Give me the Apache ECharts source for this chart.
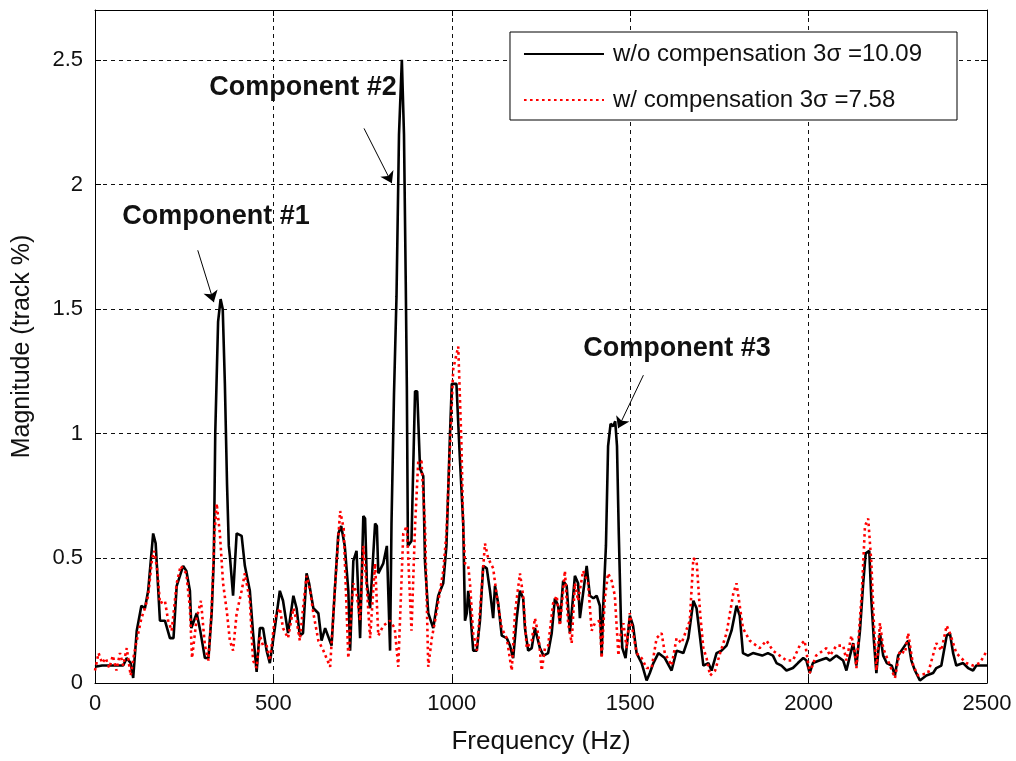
<!DOCTYPE html>
<html>
<head>
<meta charset="utf-8">
<script src="https://cdn.jsdelivr.net/npm/echarts@6/dist/echarts.min.js"></script>
<style>
html,body{margin:0;padding:0;background:#fff;}
#chart{width:1016px;height:761px;}
</style>
</head>
<body>
<div id="chart"></div>
<script>
// ---- data ----
const seriesNames = ['w/o compensation 3\u03c3 =10.09', 'w/ compensation 3\u03c3 =7.58'];
const xTicks = [0, 500, 1000, 1500, 2000, 2500];
const yTicks = [0, 0.5, 1, 1.5, 2, 2.5];

// [frequency Hz, magnitude]
const withoutComp = [
[0,0.065],[20,0.07],[40,0.07],[60,0.07],[79,0.07],[89,0.10],[100,0.08],[107,0.02],[117,0.21],[130,0.31],
[140,0.30],[149,0.37],[163,0.60],[170,0.56],[182,0.25],[196,0.25],[210,0.18],[220,0.18],[229,0.39],[247,0.47],
[256,0.45],[266,0.37],[270,0.22],[285,0.28],[295,0.21],[308,0.10],[318,0.10],[327,0.28],[333,0.50],[337,1.00],
[345,1.45],[352,1.54],[358,1.50],[364,1.20],[370,0.80],[375,0.55],[378,0.51],[387,0.35],[397,0.60],[411,0.59],
[420,0.47],[434,0.37],[443,0.20],[453,0.045],[462,0.22],[471,0.22],[481,0.13],[490,0.08],[504,0.22],[518,0.37],
[527,0.33],[541,0.20],[556,0.35],[565,0.30],[574,0.19],[583,0.20],[593,0.44],[600,0.40],[612,0.30],[626,0.28],
[635,0.17],[645,0.22],[663,0.15],[672,0.37],[682,0.60],[690,0.63],[700,0.55],[710,0.37],[715,0.13],[724,0.49],
[733,0.53],[743,0.18],[752,0.67],[757,0.66],[762,0.40],[771,0.30],[785,0.64],[790,0.63],[794,0.44],[808,0.48],
[818,0.55],[827,0.13],[831,0.64],[838,1.16],[845,1.55],[852,2.20],[860,2.50],[866,2.20],[871,1.60],[874,1.19],
[877,0.55],[887,0.57],[897,1.17],[903,1.17],[911,0.86],[920,0.83],[925,0.48],[934,0.28],[948,0.22],[962,0.35],
[976,0.40],[985,0.55],[995,1.00],[1000,1.20],[1013,1.20],[1023,0.89],[1032,0.64],[1037,0.25],[1042,0.28],[1046,0.37],
[1051,0.30],[1060,0.13],[1070,0.13],[1079,0.25],[1088,0.47],[1098,0.46],[1107,0.37],[1116,0.26],[1121,0.39],[1130,0.32],
[1140,0.19],[1154,0.18],[1163,0.15],[1172,0.10],[1182,0.26],[1191,0.37],[1200,0.34],[1205,0.22],[1214,0.13],[1224,0.14],
[1233,0.22],[1247,0.14],[1257,0.11],[1270,0.12],[1280,0.20],[1289,0.34],[1298,0.31],[1303,0.24],[1312,0.41],[1322,0.39],
[1331,0.20],[1345,0.43],[1354,0.40],[1359,0.26],[1368,0.36],[1378,0.47],[1387,0.35],[1397,0.34],[1406,0.35],[1415,0.31],
[1420,0.11],[1425,0.33],[1432,0.55],[1438,0.95],[1445,1.04],[1452,1.03],[1458,1.05],[1463,0.95],[1468,0.60],[1474,0.25],
[1478,0.14],[1487,0.10],[1499,0.27],[1508,0.23],[1518,0.12],[1532,0.08],[1546,0.01],[1555,0.04],[1565,0.08],[1579,0.12],
[1597,0.10],[1616,0.05],[1630,0.13],[1649,0.12],[1663,0.18],[1677,0.33],[1686,0.30],[1696,0.18],[1705,0.07],[1719,0.08],
[1728,0.05],[1742,0.12],[1756,0.13],[1770,0.15],[1784,0.21],[1798,0.31],[1807,0.27],[1816,0.12],[1830,0.11],[1844,0.12],
[1870,0.11],[1886,0.12],[1900,0.11],[1910,0.08],[1924,0.07],[1938,0.05],[1956,0.06],[1970,0.08],[1985,0.10],[1994,0.09],
[2003,0.04],[2012,0.08],[2030,0.09],[2050,0.10],[2060,0.09],[2078,0.11],[2097,0.09],[2106,0.05],[2116,0.11],[2125,0.16],
[2134,0.07],[2144,0.21],[2153,0.40],[2160,0.52],[2170,0.53],[2176,0.33],[2183,0.17],[2190,0.04],[2200,0.20],[2209,0.11],
[2219,0.08],[2233,0.07],[2242,0.03],[2251,0.11],[2265,0.14],[2279,0.17],[2288,0.09],[2298,0.05],[2312,0.01],[2330,0.03],
[2349,0.04],[2358,0.06],[2372,0.07],[2387,0.19],[2396,0.20],[2405,0.12],[2414,0.07],[2433,0.08],[2447,0.06],[2461,0.05],
[2470,0.07],[2484,0.07],[2500,0.07]
];

const withComp = [
[0,0.05],[10,0.12],[20,0.08],[30,0.10],[40,0.06],[50,0.11],[60,0.05],[70,0.12],[79,0.07],[89,0.14],
[100,0.03],[110,0.12],[117,0.17],[130,0.26],[140,0.30],[149,0.35],[160,0.50],[166,0.53],[175,0.45],[182,0.32],
[196,0.33],[205,0.25],[215,0.21],[229,0.40],[240,0.47],[256,0.44],[266,0.30],[272,0.10],[285,0.26],[297,0.33],
[308,0.15],[318,0.09],[327,0.30],[335,0.60],[341,0.72],[350,0.60],[359,0.40],[370,0.28],[378,0.17],[387,0.13],
[397,0.28],[411,0.37],[420,0.44],[434,0.33],[443,0.09],[453,0.06],[462,0.19],[471,0.15],[481,0.15],[490,0.09],
[504,0.26],[518,0.30],[527,0.22],[541,0.18],[556,0.30],[565,0.25],[574,0.17],[583,0.30],[593,0.43],[603,0.37],
[612,0.28],[626,0.17],[640,0.13],[659,0.065],[672,0.37],[687,0.69],[697,0.62],[710,0.10],[724,0.40],[733,0.36],
[743,0.25],[752,0.55],[762,0.38],[771,0.18],[785,0.48],[794,0.19],[808,0.23],[827,0.25],[840,0.22],[850,0.065],
[864,0.60],[874,0.63],[887,0.21],[897,0.63],[906,0.89],[915,0.89],[925,0.63],[934,0.065],[944,0.18],[957,0.28],
[976,0.45],[985,0.60],[995,0.95],[1004,1.26],[1018,1.35],[1027,0.96],[1032,0.63],[1037,0.48],[1046,0.47],[1051,0.40],
[1060,0.20],[1070,0.13],[1079,0.29],[1093,0.56],[1102,0.50],[1116,0.46],[1126,0.35],[1140,0.22],[1154,0.18],[1168,0.05],
[1177,0.28],[1191,0.44],[1200,0.35],[1210,0.14],[1224,0.17],[1233,0.26],[1243,0.19],[1252,0.05],[1261,0.14],[1270,0.15],
[1284,0.32],[1294,0.35],[1303,0.23],[1317,0.45],[1326,0.24],[1336,0.16],[1345,0.40],[1354,0.33],[1368,0.45],[1382,0.40],
[1392,0.21],[1401,0.24],[1415,0.25],[1420,0.10],[1429,0.34],[1438,0.44],[1448,0.41],[1457,0.35],[1467,0.11],[1471,0.18],
[1481,0.24],[1490,0.14],[1499,0.28],[1508,0.20],[1518,0.12],[1532,0.10],[1546,0.06],[1560,0.06],[1574,0.18],[1588,0.20],
[1597,0.12],[1616,0.07],[1630,0.18],[1644,0.16],[1667,0.25],[1677,0.50],[1686,0.49],[1696,0.28],[1705,0.14],[1714,0.10],
[1724,0.03],[1738,0.05],[1752,0.12],[1770,0.20],[1789,0.36],[1798,0.40],[1807,0.31],[1816,0.22],[1835,0.17],[1863,0.14],
[1882,0.17],[1900,0.13],[1919,0.11],[1938,0.09],[1956,0.09],[1975,0.15],[1989,0.17],[2003,0.04],[2021,0.11],[2050,0.14],
[2060,0.11],[2078,0.15],[2097,0.15],[2106,0.09],[2120,0.19],[2130,0.12],[2134,0.06],[2149,0.36],[2158,0.63],[2167,0.66],
[2176,0.48],[2183,0.24],[2190,0.05],[2200,0.24],[2209,0.14],[2228,0.07],[2242,0.02],[2256,0.13],[2270,0.12],[2279,0.20],
[2293,0.07],[2307,0.03],[2335,0.04],[2358,0.16],[2372,0.13],[2387,0.23],[2396,0.20],[2414,0.12],[2442,0.08],[2461,0.07],
[2480,0.08],[2500,0.13]
];

// annotations: label text, label position, arrow start, arrow end (data units)
const annotationLabels = ['Component #1', 'Component #2', 'Component #3'];
const annotationLabelPos = [[339, 1.872], [583, 2.39], [1631, 1.343]];
const annotationArrowFrom = [[288, 1.736], [754, 2.225], [1537, 1.235]];
const annotationArrowTo = [[333, 1.528], [832, 2.005], [1466, 1.022]];

// ---- chart ----
const FONT = '"Liberation Sans", Arial, sans-serif';
const chart = echarts.init(document.getElementById('chart'), null, {renderer: 'canvas'});

const option = {
  animation: false,
  backgroundColor: '#ffffff',
  grid: {left: 95, right: 29, top: 10, bottom: 78, containLabel: false},
  legend: {
    data: seriesNames,
    orient: 'vertical',
    right: 59,
    top: 32,
    backgroundColor: '#ffffff',
    borderColor: '#000',
    borderWidth: 1,
    borderRadius: 0,
    padding: [10, 35, 8, 13],
    itemWidth: 80,
    itemHeight: 22,
    itemGap: 22,
    itemStyle: {opacity: 0},
    textStyle: {fontFamily: FONT, fontSize: 24, color: '#111', padding: [0, 0, 0, 4]}
  },
  xAxis: [{
    type: 'value', min: 0, max: 2500, interval: 500,
    name: 'Frequency (Hz)', nameLocation: 'middle', nameGap: 46,
    nameTextStyle: {fontFamily: FONT, fontSize: 26, color: '#111'},
    axisLine: {show: true, onZero: false, lineStyle: {color: '#000', width: 1}},
    axisTick: {show: true, inside: true, length: 6, lineStyle: {color: '#000'}},
    axisLabel: {fontFamily: FONT, fontSize: 22, color: '#111', margin: 10,
      formatter: v => xTicks.indexOf(v) >= 0 ? String(v) : ''},
    splitLine: {show: true, lineStyle: {color: '#111', width: 1, type: [4, 4]}}
  }, {
    type: 'value', min: 0, max: 2500, interval: 500, position: 'top',
    axisLine: {show: true, onZero: false, lineStyle: {color: '#000', width: 1}},
    axisTick: {show: true, inside: true, length: 6, lineStyle: {color: '#000'}},
    axisLabel: {show: false}, splitLine: {show: false}
  }],
  yAxis: [{
    type: 'value', min: 0, max: 2.7, interval: 0.5,
    name: 'Magnitude (track %)', nameLocation: 'middle', nameGap: 60, nameRotate: 90,
    nameTextStyle: {fontFamily: FONT, fontSize: 25, color: '#111'},
    axisLine: {show: true, onZero: false, lineStyle: {color: '#000', width: 1}},
    axisTick: {show: true, inside: true, length: 6, lineStyle: {color: '#000'}},
    axisLabel: {fontFamily: FONT, fontSize: 22, color: '#111', margin: 12,
      showMaxLabel: false,
      formatter: v => {
        const r = Math.round(v * 10) / 10;
        return yTicks.indexOf(r) >= 0 && Math.abs(v - r) < 1e-6 ? String(r) : '';
      }},
    splitLine: {show: true, lineStyle: {color: '#111', width: 1, type: [4, 4]}}
  }, {
    type: 'value', min: 0, max: 2.7, interval: 0.5, position: 'right',
    axisLine: {show: true, onZero: false, lineStyle: {color: '#000', width: 1}},
    axisTick: {show: true, inside: true, length: 6, lineStyle: {color: '#000'}},
    axisLabel: {show: false}, splitLine: {show: false}
  }],
  series: [{
    name: seriesNames[0],
    type: 'line',
    data: withoutComp,
    showSymbol: false, symbol: 'none',
    lineStyle: {color: '#000', width: 2.6},
    itemStyle: {color: '#000'},
    z: 2
  }, {
    name: seriesNames[1],
    type: 'line',
    data: withComp,
    showSymbol: false, symbol: 'none',
    lineStyle: {color: '#ff0000', width: 2.6, type: [2.6, 3.4]},
    itemStyle: {color: '#ff0000'},
    z: 3
  }, {
    name: 'annotations',
    type: 'line',
    data: [[0, 0]],
    showSymbol: false, symbol: 'none',
    lineStyle: {opacity: 0},
    silent: true,
    z: 5,
    markLine: {
      silent: true,
      animation: false,
      symbol: ['none', 'arrow'],
      symbolSize: 11,
      label: {show: false},
      lineStyle: {color: '#000', width: 1, type: 'solid', opacity: 1},
      itemStyle: {color: '#000', opacity: 1},
      data: annotationArrowFrom.map((a, i) => [{coord: a}, {coord: annotationArrowTo[i]}])
    },
    markPoint: {
      silent: true,
      symbol: 'rect',
      symbolSize: 1,
      itemStyle: {color: 'rgba(0,0,0,0)'},
      label: {show: true, position: 'inside', fontFamily: FONT, fontWeight: 'bold', fontSize: 27, color: '#111',
        formatter: p => p.name},
      data: annotationLabels.map((t, i) => ({name: t, coord: annotationLabelPos[i]}))
    }
  }]
};
chart.setOption(option);
</script>
</body>
</html>
